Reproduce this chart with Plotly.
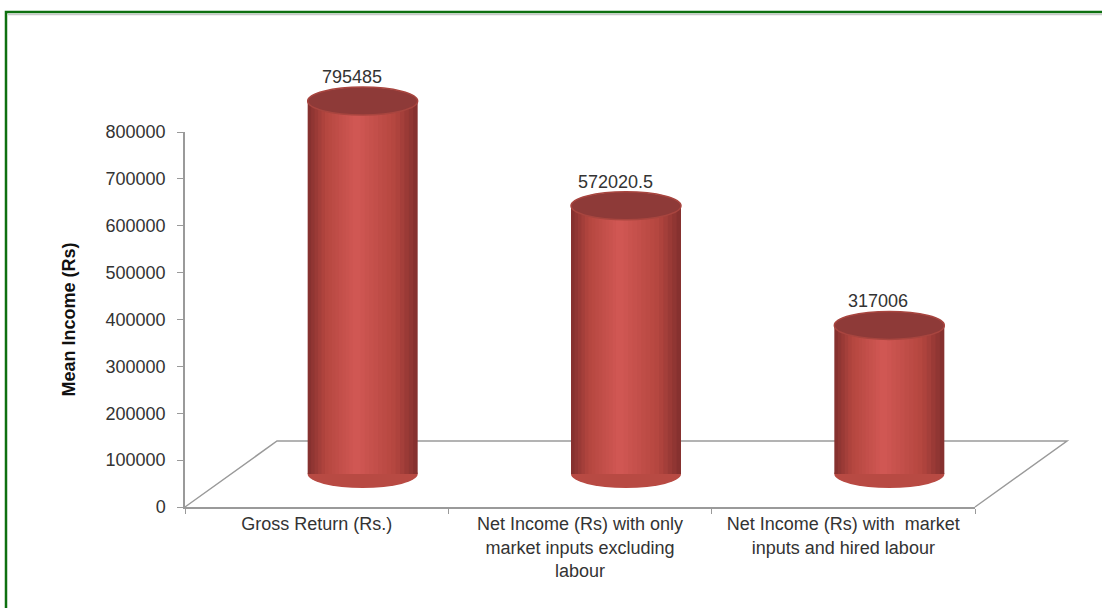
import plotly.graph_objects as go

# ---------------- data ----------------
categories = [
    "Gross Return (Rs.)",
    "Net Income (Rs) with only<br>market inputs excluding<br>labour",
    "Net Income (Rs) with  market<br>inputs and hired labour",
]
mean_income = [795485, 572020.5, 317006]
value_labels = ["795485", "572020.5", "317006"]
y_ticks = [0, 100000, 200000, 300000, 400000, 500000, 600000, 700000, 800000]
y_title = "Mean Income (Rs)"

# ---------------- layout geometry (pixels) ----------------
W, H = 1102, 608
FONT = "Liberation Sans, Arial, sans-serif"
FS = 18
X_LEFT, X_RIGHT = 185, 975       # front edge of the floor
Y_ZERO, Y_TOP = 507, 132         # y axis: 0 and 800000
DEPTH_DX, DEPTH_DY = 46, 33      # cylinder offset (half depth)
YMAX = 800000


def fx(p):
    return p / W


def fy(p):
    return (H - p) / H


units_per_px = YMAX / (Y_ZERO - Y_TOP)
ell_half = 14 * units_per_px      # half height of cylinder caps (in data units)
bar_w = 110 / ((X_RIGHT - X_LEFT) / 3)

# extended range for the cylinder subplot so caps are not clipped
Y2_LO, Y2_HI = -60000, 900000
y2_bot_px = (Y_ZERO - DEPTH_DY) - Y2_LO / units_per_px
y2_top_px = (Y_ZERO - DEPTH_DY) - Y2_HI / units_per_px

fig = go.Figure()


def mix(c1, c2, t):
    a = [int(c1[i:i + 2], 16) for i in (1, 3, 5)]
    b = [int(c2[i:i + 2], 16) for i in (1, 3, 5)]
    return "#" + "".join(f"{round(a[k] + (b[k] - a[k]) * t):02x}" for k in range(3))


# shaded cylinder bodies (several overlaid bars create a gradient)
EDGE, MID, CORE = "#86312F", "#B4463F", "#D05753"
n_layers = 14
xs = list(range(len(categories)))
for k in range(n_layers):
    frac = 1 - k / n_layers
    t = k / (n_layers - 1)
    col = mix(EDGE, MID, t / 0.35) if t < 0.35 else mix(MID, CORE, (t - 0.35) / 0.65)
    fig.add_trace(go.Bar(
        x=xs, y=mean_income, width=bar_w * frac,
        offset=-bar_w * frac / 2 - 0.06 * bar_w * (1 - frac),
        marker=dict(color=col, line=dict(width=0)),
        xaxis="x2", yaxis="y2", showlegend=False, hoverinfo="skip",
    ))

# invisible trace to establish main (front) axes
fig.add_trace(go.Scatter(x=categories, y=[0, 0, 0], mode="markers",
                         marker=dict(opacity=0), showlegend=False,
                         hoverinfo="skip", xaxis="x", yaxis="y"))

shapes = []
# floor (3D base plane)
shapes.append(dict(
    type="path", xref="paper", yref="paper", layer="below",
    path=(f"M {fx(X_LEFT)},{fy(Y_ZERO)} L {fx(X_LEFT + 2*DEPTH_DX)},{fy(Y_ZERO - 2*DEPTH_DY)} "
          f"L {fx(X_RIGHT + 2*DEPTH_DX)},{fy(Y_ZERO - 2*DEPTH_DY)} L {fx(X_RIGHT)},{fy(Y_ZERO)}"),
    line=dict(color="#9a9a9a", width=1.5),
))
# bottom caps and top caps of cylinders
for i, v in enumerate(mean_income):
    shapes.append(dict(
        type="circle", xref="x2", yref="y2", layer="below",
        x0=i - bar_w / 2, x1=i + bar_w / 2, y0=-ell_half, y1=ell_half,
        fillcolor="#B84A43", line=dict(width=0),
    ))
    shapes.append(dict(
        type="circle", xref="x2", yref="y2", layer="above",
        x0=i - bar_w / 2, x1=i + bar_w / 2, y0=v - ell_half, y1=v + ell_half,
        fillcolor="#8E3A38", line=dict(color="#A8453F", width=1.5),
    ))
# green frame
shapes.append(dict(type="rect", xref="paper", yref="paper", layer="above",
                   x0=fx(6), x1=fx(W + 5), y0=fy(12), y1=fy(H + 5),
                   line=dict(color="#0E7010", width=2.5)))
shapes.append(dict(type="line", xref="paper", yref="paper", layer="above",
                   x0=fx(8), x1=fx(W), y0=fy(14.5), y1=fy(14.5),
                   line=dict(color="#c8c8c8", width=1.5)))

annotations = []
for i, (v, t) in enumerate(zip(mean_income, value_labels)):
    annotations.append(dict(
        x=i, y=v, xref="x2", yref="y2", text=t, showarrow=False,
        yanchor="bottom", yshift=12, xshift=-11,
        font=dict(family=FONT, size=FS, color="#333333"),
    ))

fig.update_layout(
    width=W, height=H, autosize=False,
    margin=dict(l=0, r=0, t=0, b=0),
    paper_bgcolor="white", plot_bgcolor="rgba(0,0,0,0)",
    barmode="overlay", showlegend=False,
    shapes=shapes, annotations=annotations,
    font=dict(family=FONT, size=FS, color="#333333"),
    xaxis=dict(
        domain=[fx(X_LEFT), fx(X_RIGHT)], anchor="y",
        type="category", categoryorder="array", categoryarray=categories,
        range=[-0.5, 2.5], showline=True, linecolor="#9a9a9a", linewidth=1.5,
        ticks="outside", tickson="boundaries", ticklen=5, tickcolor="#9a9a9a",
        showgrid=False, zeroline=False, automargin=False,
        tickfont=dict(family=FONT, size=FS, color="#333333"),
    ),
    yaxis=dict(
        domain=[fy(Y_ZERO), fy(Y_TOP)], anchor="x",
        range=[0, YMAX], tickvals=y_ticks, ticktext=[str(t) for t in y_ticks],
        showline=True, linecolor="#9a9a9a", linewidth=1.5,
        ticks="outside", ticklen=6, tickcolor="#9a9a9a", ticklabelstandoff=8,
        showgrid=False, zeroline=False, automargin=False,
        tickfont=dict(family=FONT, size=FS, color="#333333"),
        title=dict(text=f"<b>{y_title}</b>", standoff=25,
                   font=dict(family=FONT, size=18, color="#111111")),
    ),
    xaxis2=dict(
        domain=[fx(X_LEFT + DEPTH_DX), fx(X_RIGHT + DEPTH_DX)], anchor="y2",
        range=[-0.5, 2.5], visible=False, automargin=False,
    ),
    yaxis2=dict(
        domain=[fy(y2_bot_px), fy(y2_top_px)], anchor="x2",
        range=[Y2_LO, Y2_HI], visible=False, automargin=False,
    ),
)

fig.write_html("out.html")
